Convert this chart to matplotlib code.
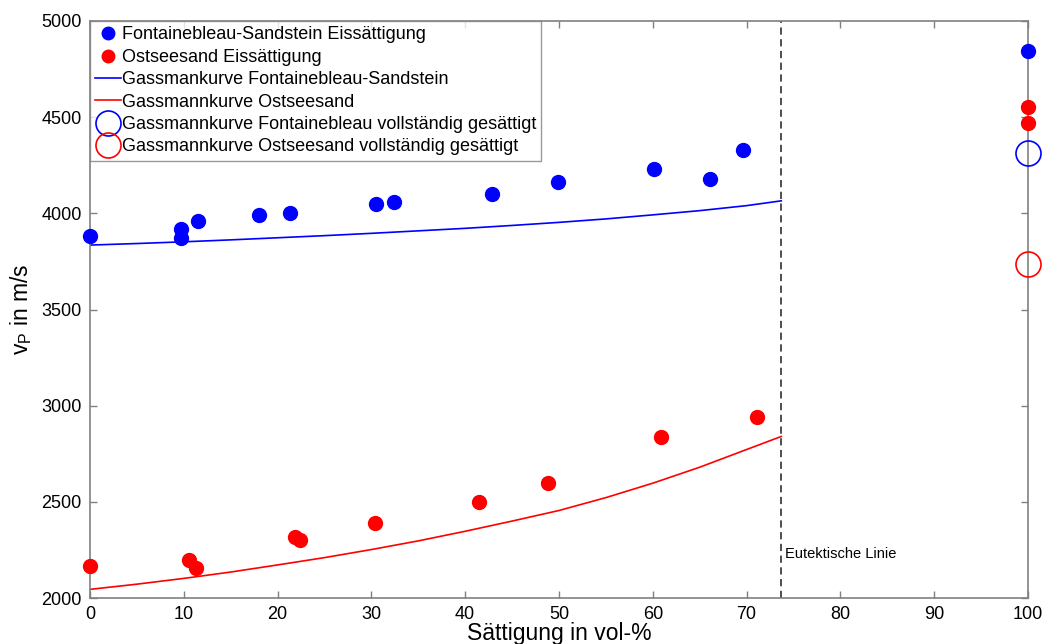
import matplotlib.pyplot as plt
import numpy as np

plt.rcParams['font.family'] = ['Liberation Sans', 'DejaVu Sans']
plt.rcParams['mathtext.fontset'] = 'custom'
plt.rcParams['mathtext.rm'] = 'Liberation Sans'
plt.rcParams['mathtext.it'] = 'Liberation Sans'

# Messwerte Eissaettigung
fb_sat = [0, 9.7, 9.7, 11.5, 18.0, 21.3, 30.5, 32.4, 42.9, 49.9, 60.1, 66.1, 69.6, 100]
fb_vp = [3880, 3920, 3872, 3960, 3990, 4000, 4050, 4060, 4100, 4165, 4230, 4180, 4330, 4845]
os_sat = [0, 10.6, 11.3, 21.9, 22.4, 30.4, 41.5, 48.8, 60.9, 71.1, 100, 100]
os_vp = [2166, 2200, 2158, 2318, 2300, 2390, 2500, 2600, 2838, 2940, 4553, 4470]

# Gassmann-Kurven (bis zur eutektischen Linie)
g_sat = [0, 5, 10, 15, 20, 25, 30, 35, 40, 45, 50, 55, 60, 65, 70, 73.7]
g_fb = [3835, 3843, 3852, 3862, 3873, 3884, 3896, 3909, 3922, 3937, 3953, 3971, 3992, 4014, 4040, 4065]
g_os = [2045, 2072, 2102, 2135, 2172, 2210, 2252, 2297, 2347, 2400, 2455, 2522, 2597, 2680, 2772, 2840]

# vollstaendig gesaettigt
full_sat = 100
full_fb = 4313
full_os = 3736

eutektisch = 73.7

fig = plt.figure(figsize=(10.45, 6.44), dpi=100)
ax = fig.add_axes([0.0861, 0.0714, 0.8976, 0.8960])

ax.plot(fb_sat, fb_vp, 'o', color='#0000ff', markersize=10, clip_on=False, zorder=5,
        label='Fontainebleau-Sandstein Eissättigung')
ax.plot(os_sat, os_vp, 'o', color='#ff0000', markersize=10, clip_on=False, zorder=5,
        label='Ostseesand Eissättigung')
ax.plot(g_sat, g_fb, '-', color='#0000ff', lw=1.2, label='Gassmankurve Fontainebleau-Sandstein')
ax.plot(g_sat, g_os, '-', color='#ff0000', lw=1.2, label='Gassmannkurve Ostseesand')
ax.plot([full_sat], [full_fb], 'o', mfc='none', mec='#0000ff', markersize=18, mew=1.2,
        clip_on=False, zorder=5, label='Gassmannkurve Fontainebleau vollständig gesättigt')
ax.plot([full_sat], [full_os], 'o', mfc='none', mec='#ff0000', markersize=18, mew=1.2,
        clip_on=False, zorder=5, label='Gassmannkurve Ostseesand vollständig gesättigt')

ax.axvline(eutektisch, color='#404040', ls='--', lw=1.3, dashes=(4, 2.5))
ax.text(eutektisch + 0.4, 2230, 'Eutektische Linie', fontsize=10.5, va='center', ha='left')

ax.set_xlim(0, 100)
ax.set_ylim(2000, 5000)
ax.set_xticks(np.arange(0, 101, 10))
ax.set_yticks(np.arange(2000, 5001, 500))
ax.tick_params(direction='in', top=True, right=True, length=5, width=1, color='#808080',
               labelsize=13)
ax.tick_params(axis='x', pad=6)
ax.tick_params(axis='y', pad=6)
for s in ax.spines.values():
    s.set_color('#808080')
    s.set_linewidth(1.2)

ax.set_xlabel('Sättigung in vol-%', fontsize=16.5, labelpad=-1)
ax.set_ylabel(r'v$_\mathrm{P}$ in m/s', fontsize=16.5, labelpad=5)

leg = ax.legend(loc='upper left', fontsize=13, frameon=True, fancybox=False,
                borderaxespad=0, handlelength=1.4, handletextpad=0.05, labelspacing=0.3,
                borderpad=0.3)
leg.get_frame().set_edgecolor('#808080')
leg.get_frame().set_linewidth(1)
for h in leg.legend_handles[:2]:
    h.set_markersize(9)

fig.savefig('out.png', dpi=100)
